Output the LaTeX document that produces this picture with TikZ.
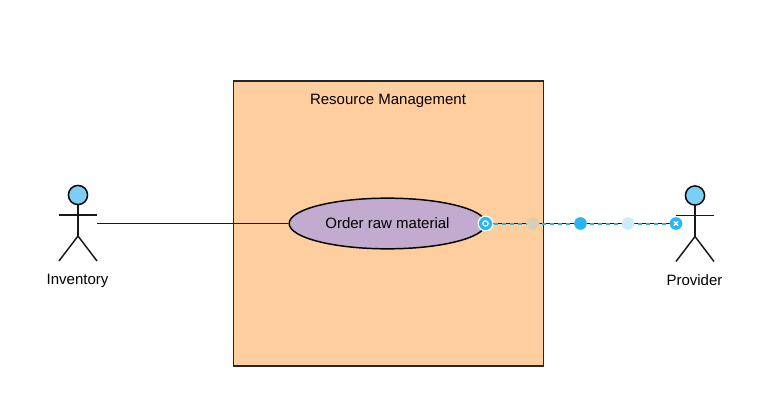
\documentclass[tikz,border=0pt]{standalone}
\usepackage{fontspec}
\usetikzlibrary{shapes.geometric}
\setmainfont{Liberation Sans}
\definecolor{sysfill}{HTML}{FFCE9F}
\definecolor{usefill}{HTML}{C3ABD0}
\definecolor{headfill}{HTML}{7ACFF5}
\definecolor{handle}{HTML}{29B6F2}
\definecolor{softa}{HTML}{D9CDB4}
\definecolor{softb}{HTML}{CDEBF9}
\tikzset{
  x=0.75pt,y=-0.75pt,
  line/.style={draw=black!90,line width=1.1pt},
  label/.style={font=\fontsize{11.25pt}{13pt}\selectfont,text=black,inner sep=0pt},
  dot/.style={circle,fill=handle,draw=none,inner sep=0pt,minimum size=9.5pt},
}
\newcommand{\stickman}[3]{%
  \coordinate (#3neck) at (#1,#2+9.5);
  \coordinate (#3hip) at (#1,#2+41);
  \coordinate (#3armL) at (#1-19,#2+20);
  \coordinate (#3armR) at (#1+19,#2+20);
  \coordinate (#3legL) at (#1-19,#2+66);
  \coordinate (#3legR) at (#1+19,#2+66);
  \node[circle,draw=black,line width=1.1pt,fill=headfill,minimum size=14.4pt,inner sep=0pt] (#3head) at (#1,#2) {};
  \draw[line] (#3neck) -- (#3hip);
  \draw[line] (#3armL) -- (#3armR);
  \draw[line] (#3legL) -- (#3hip) -- (#3legR);
}
\begin{document}
\begin{tikzpicture}
\useasboundingbox (0,0) rectangle (772,403);
\node[draw=black!85,line width=1.05pt,fill=sysfill,minimum width=232.5pt,minimum height=213.75pt,inner sep=0pt] (sys) at (388.5,223.5) {};
\node[label] (systitle) at (388,100.5) {Resource Management};
\node[ellipse,draw=black,line width=1.1pt,fill=usefill,minimum width=147.5pt,minimum height=38pt,inner sep=0pt] (uc) at (387.5,223.5) {};
\node[label] at (387.5,223.5) (uclabel) {Order raw material};
\stickman{78}{195}{a}
\stickman{695}{195.5}{b}
\node[label] (inv) at (77.5,280.5) {Inventory};
\node[label] (prov) at (694.5,280.5) {Provider};
\coordinate (inend) at (97,223.5);
\draw[line] (inend) -- (uc.west);
\coordinate (ucend) at (485.5,223.5);
\coordinate (provend) at (676,223.5);
\draw[line] (ucend) -- (provend);
\draw[handle,line width=1.5pt,dash pattern=on 3pt off 3pt] (ucend) -- (provend);
\node[dot,fill=softa] (h1) at (533,223.5) {};
\node[dot] (h2) at (580.5,223.5) {};
\node[dot,fill=softb] (h3) at (628,223.5) {};
\node[circle,fill=handle,draw=white,line width=0.9pt,minimum size=11pt,inner sep=0pt] (start) at (ucend) {};
\node[circle,draw=white,line width=0.9pt,minimum size=4pt,inner sep=0pt] (startin) at (ucend) {};
\node[dot] (stop) at (provend) {};
\draw[white,line width=1pt] ([shift={(-2.2,-2.2)}]stop.center) -- ([shift={(2.2,2.2)}]stop.center);
\draw[white,line width=1pt] ([shift={(-2.2,2.2)}]stop.center) -- ([shift={(2.2,-2.2)}]stop.center);
\end{tikzpicture}
\end{document}
